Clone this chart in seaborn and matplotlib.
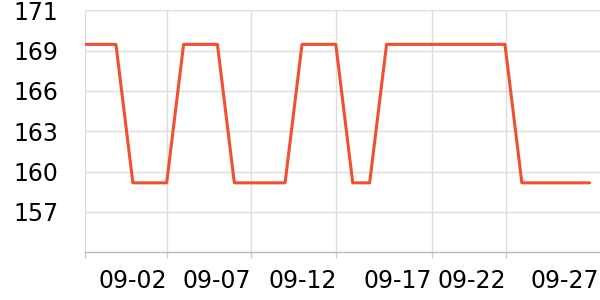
import matplotlib
matplotlib.use("Agg")
import matplotlib.pyplot as plt
import seaborn as sns
import pandas as pd

# ---- data ----
dates = ["08-28", "08-29", "08-30", "08-31", "09-01", "09-02", "09-03", "09-04",
         "09-05", "09-06", "09-07", "09-08", "09-09", "09-10", "09-11", "09-12",
         "09-13", "09-14", "09-15", "09-16", "09-17", "09-18", "09-19", "09-20",
         "09-21", "09-22", "09-23", "09-24", "09-25", "09-26", "09-27"]
values = [169.0, 169.0, 169.0, 159.25, 159.25, 159.25, 169.0, 169.0, 169.0,
          159.25, 159.25, 159.25, 159.25, 169.0, 169.0, 169.0, 159.25, 159.25,
          169.0, 169.0, 169.0, 169.0, 169.0, 169.0, 169.0, 169.0, 159.25, 159.25,
          159.25, 159.25, 159.25]
x_tick_labels = ["", "09-02", "09-07", "09-12", "09-17", "09-22"]
x_tick_pos = [0.17, 5.0, 10.0, 15.04, 20.67, 25.04]
last_label = "09-27"
last_label_pos = 30.56
y_tick_labels = ["157", "160", "163", "166", "169", "171"]
y_tick_pos = [157.2, 160.04, 162.88, 165.72, 168.56, 171.4]

df = pd.DataFrame({"idx": range(len(dates)), "date": dates, "value": values})

sns.set_theme(style="white")
plt.rcParams["font.family"] = ["DejaVu Sans"]

fig = plt.figure(figsize=(6, 3), dpi=100)
ax = fig.add_axes([85 / 600, 1 - 252.3 / 300, 515 / 600, (252.3 - 10.3) / 300])

sns.lineplot(data=df, x="idx", y="value", ax=ax, color="#ef4f32", linewidth=2.2)

ax.set_xlim(0.17, 30.62)
ax.set_ylim(154.36, 171.4)

ax.set_xticks(x_tick_pos, labels=x_tick_labels)
ax.set_xticks([last_label_pos], labels=[last_label], minor=True)
ax.set_yticks(y_tick_pos, labels=y_tick_labels)

for lab in ax.get_xticklabels(which="both"):
    lab.set_horizontalalignment("right")

ax.grid(True, which="major", color="#dddddd", linewidth=1.0)
ax.grid(False, which="minor")
ax.set_axisbelow(True)

ax.tick_params(axis="x", which="major", length=4, width=1, color="#cccccc",
               labelsize=17, pad=8, labelcolor="black", bottom=True)
ax.tick_params(axis="x", which="minor", length=0, labelsize=17, pad=12,
               labelcolor="black", bottom=True)
ax.tick_params(axis="y", length=0, labelsize=17, pad=19, labelcolor="black")

for s in ["top", "right", "left"]:
    ax.spines[s].set_visible(False)
ax.spines["bottom"].set_color("#bbbbbb")
ax.spines["bottom"].set_linewidth(1.0)

ax.set_xlabel("")
ax.set_ylabel("")

fig.savefig("out.png", dpi=100)
